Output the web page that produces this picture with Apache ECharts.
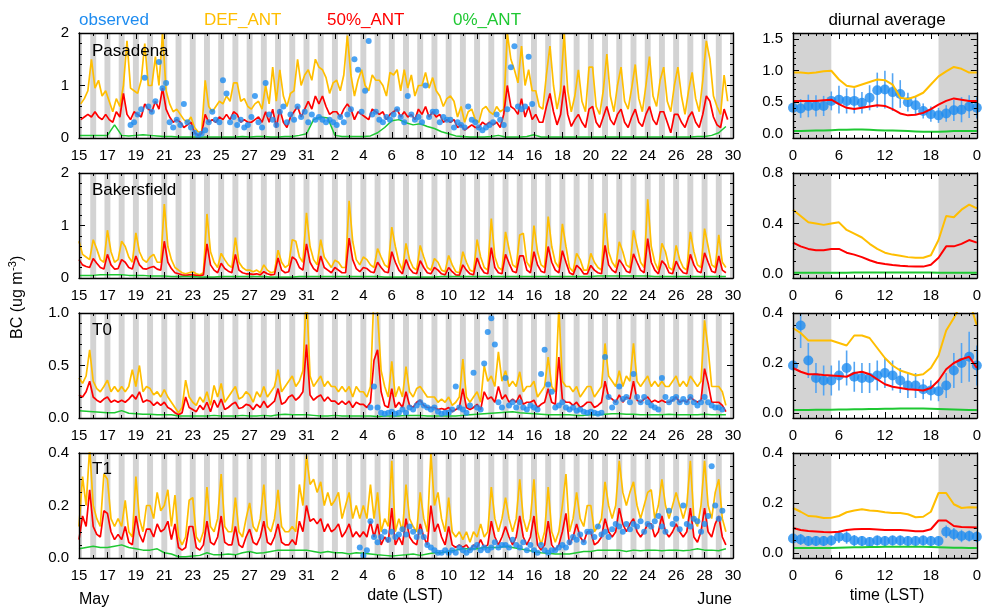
<!DOCTYPE html>
<html><head><meta charset="utf-8">
<script src="https://cdn.jsdelivr.net/npm/echarts@6/dist/echarts.min.js"></script>
<style>html,body{margin:0;padding:0;background:#fff}#c{width:984px;height:608px}</style>
</head><body><div id="c"></div>
<script>
// ---------------- DATA ----------------
// time series: x = days since 15 May 00 LST; values sampled 4x per day
const DATE_TICKS = [0,2,4,6,8,10,12,14,16,18,20,22,24,26,28,30,32,34,36,38,40,42,44,46];
const DATE_LABELS = ['15','17','19','21','23','25','27','29','31','2','4','6','8','10','12','14','16','18','20','22','24','26','28','30'];
const HOUR_TICKS = [0,6,12,18,24];
const HOUR_LABELS = ['0','6','12','18','0'];
const HOURS_PAS = [3,9,15,21];
const HOURS_STD = [0,6,12,18];
const HOURS_GREEN = [0,12];
const DIURNAL_HOURS = [0,1,2,3,4,5,6,7,8,9,10,11,12,13,14,15,16,17,18,19,20,21,22,23,24];

const PAS_DEF = [
0.65,0.75,0.9,1.5, 0.95,1.1,0.8,0.9, 0.7,0.5,0.75,0.6, 1.0,1.85,0.95,0.9, 0.85,1.1,1.8,1.0,
1.0,1.55,1.0,2.0, 0.9,0.65,0.5,0.55, 0.45,0.35,0.3,0.4, 0.2,0.12,0.1,1.1, 0.6,0.5,0.6,0.7,
0.65,0.8,0.7,1.05, 1.05,0.7,0.75,0.6, 0.55,0.65,0.7,0.55, 1.0,0.65,1.35,0.7, 1.3,0.8,0.6,0.85,
0.9,1.5,1.0,1.2, 1.3,1.1,1.5,1.35, 1.3,1.15,0.85,1.05, 1.1,0.9,1.2,1.95, 1.2,0.8,1.1,1.3,
1.0,0.9,1.2,1.1, 1.1,1.0,0.8,1.25, 1.2,1.3,0.9,1.3, 0.95,1.2,0.8,1.0, 1.0,1.25,0.95,1.15,
0.9,0.8,0.6,0.75, 0.8,0.7,0.4,0.6, 0.3,0.5,0.55,0.35, 0.3,0.55,0.6,0.5, 0.45,0.6,0.5,0.55,
2.0,1.5,1.3,1.05, 1.75,1.0,1.3,0.9, 0.9,0.6,0.55,1.2, 1.75,1.0,0.55,0.9, 2.0,0.9,0.5,0.8,
1.3,0.7,0.5,1.35, 1.35,0.6,0.45,0.9, 1.6,0.8,0.5,1.0, 1.35,0.7,0.55,0.95, 1.4,0.75,0.5,1.0,
1.55,0.8,0.6,1.1, 1.35,0.7,0.5,1.0, 1.35,0.8,0.45,0.9, 1.25,0.75,0.5,1.1, 1.85,1.5,0.8,0.6,
0.45,1.2,0.7];
const PAS_HALF = [
0.35,0.4,0.45,0.4, 0.5,0.4,0.35,0.45, 0.35,0.3,0.5,0.4, 0.85,0.45,0.35,0.5, 0.45,0.4,0.65,0.55,
0.5,0.7,0.55,0.95, 0.55,0.4,0.3,0.35, 0.3,0.2,0.25,0.3, 0.1,0.05,0.08,0.45, 0.3,0.35,0.3,0.4,
0.35,0.45,0.35,0.5, 0.45,0.3,0.35,0.3, 0.3,0.35,0.4,0.3, 0.5,0.3,0.55,0.2, 0.55,0.3,0.2,0.4,
0.5,0.6,0.4,0.55, 0.7,0.55,0.8,0.65, 0.8,0.6,0.45,0.5, 0.5,0.4,0.55,0.65, 0.55,0.35,0.5,0.45,
0.4,0.35,0.55,0.5, 0.45,0.5,0.35,0.45, 0.5,0.55,0.4,0.5, 0.4,0.45,0.35,0.55, 0.45,0.6,0.4,0.5,
0.4,0.45,0.3,0.35, 0.3,0.35,0.2,0.25, 0.15,0.2,0.25,0.2, 0.2,0.3,0.25,0.3, 0.25,0.3,0.2,0.45,
1.0,0.6,0.55,0.45, 0.75,0.4,0.6,0.35, 0.45,0.3,0.3,0.6, 0.85,0.5,0.25,0.45, 1.0,0.45,0.22,0.35,
0.45,0.3,0.2,0.55, 0.6,0.3,0.2,0.4, 0.6,0.35,0.25,0.45, 0.55,0.3,0.2,0.4, 0.55,0.3,0.22,0.45,
0.6,0.35,0.25,0.5, 0.5,0.3,0.1,0.45, 0.45,0.3,0.2,0.4, 0.5,0.3,0.2,0.45, 0.8,0.7,0.4,0.25,
0.2,0.55,0.35];
const PAS_ZERO = [
0.05,0.05, 0.05,0.05, 0.05,0.25, 0.05,0.04, 0.05,0.06, 0.05,0.04, 0.03,0.03, 0.02,0.02, 0.02,0.02, 0.02,0.02,
0.02,0.02, 0.02,0.03, 0.02,0.03, 0.03,0.02, 0.02,0.03, 0.03,0.05, 0.08,0.35, 0.4,0.38, 0.05,0.03, 0.03,0.03,
0.03,0.04, 0.1,0.2, 0.33,0.35, 0.29,0.25, 0.27,0.22, 0.18,0.12, 0.08,0.04, 0.03,0.02, 0.02,0.02, 0.03,0.05,
0.02,0.02, 0.02,0.03, 0.06,0.02, 0.02,0.02, 0.02,0.02, 0.02,0.02, 0.02,0.02, 0.02,0.02, 0.02,0.02, 0.02,0.02,
0.02,0.02, 0.02,0.02, 0.02,0.02, 0.02,0.03, 0.03,0.05, 0.1,0.22];
const PAS_OBS_START = 3;
const PAS_OBS = [
null,null,0.25,0.3, 0.45,0.55,1.15,0.6, 0.5,0.7,1.45,0.95, 1.05,0.3,0.2,0.35, 0.25,0.65,0.3,0.2,
0.1,0.05,0.08,0.15, 0.3,0.5,0.35,0.3, 1.1,0.85,0.3,0.4, 0.25,0.35,0.2,0.25, 0.4,0.8,0.3,0.2,
1.05,0.45,0.35,0.25, 0.5,0.6,0.3,0.45, 0.35,0.6,0.4,0.5, 0.3,0.45,0.35,0.4, 0.35,0.3,0.35,0.3,
0.25,0.4,0.3,0.45, 0.55,1.5,1.3,0.5, 0.9,1.85,0.45,0.5, 0.35,0.3,0.4,0.35, 0.45,0.55,0.4,0.3,
0.8,0.45,0.35,0.4, 0.3,1.0,0.4,0.5, 0.5,0.3,0.4,0.35, 0.35,0.2,0.3,0.25, 0.2,0.6,0.35,0.3,
0.2,0.15,0.2,0.25, 0.3,0.45,0.35,0.25, 0.55,1.35,1.75,0.6, 0.55,0.6,1.55,0.65];

const BAK_DEF = [
0.7,0.45,0.4,0.35, 0.73,0.55,0.35,0.3, 0.91,0.5,0.3,0.35, 0.7,0.6,0.4,0.3, 0.86,0.5,0.35,0.3,
0.4,0.45,0.3,0.3, 1.41,0.6,0.35,0.2, 0.15,0.1,0.08,0.1, 0.12,0.08,0.06,0.1, 1.22,0.5,0.3,0.2,
0.47,0.35,0.25,0.2, 0.77,0.3,0.2,0.15, 0.15,0.12,0.15,0.1, 0.25,0.15,0.1,0.12, 0.53,0.3,0.2,0.25,
0.73,0.7,0.4,0.3, 1.24,0.6,0.35,0.25, 0.73,0.4,0.3,0.2, 0.34,0.3,0.2,0.2, 1.47,0.7,0.35,0.25,
0.4,0.35,0.25,0.2, 0.56,0.4,0.25,0.2, 0.97,0.6,0.3,0.15, 0.66,0.35,0.2,0.15, 0.62,0.4,0.2,0.15,
0.37,0.3,0.15,0.12, 0.43,0.25,0.12,0.1, 0.5,0.3,0.15,0.12, 0.73,0.4,0.2,0.15, 1.13,0.4,0.2,0.15,
0.88,0.55,0.25,0.2, 0.82,0.85,0.3,0.2, 1.0,0.5,0.25,0.2, 1.17,0.6,0.3,0.2, 1.03,0.6,0.2,0.12,
0.47,0.35,0.15,0.15, 0.47,0.3,0.2,0.15, 1.23,0.5,0.3,0.2, 0.69,0.5,0.25,0.2, 0.91,0.6,0.3,0.2,
1.5,0.6,0.3,0.15, 0.66,0.5,0.2,0.15, 0.62,0.35,0.2,0.15, 0.88,0.5,0.25,0.2, 0.94,0.6,0.25,0.2,
0.82,0.3,0.2];
const BAK_HALF = [
0.35,0.25,0.22,0.2, 0.37,0.28,0.2,0.17, 0.45,0.25,0.17,0.18, 0.35,0.3,0.2,0.17, 0.42,0.25,0.18,0.17,
0.2,0.22,0.17,0.15, 0.7,0.3,0.18,0.1, 0.08,0.06,0.05,0.06, 0.06,0.05,0.04,0.06, 0.65,0.25,0.15,0.1,
0.28,0.18,0.13,0.1, 0.45,0.15,0.1,0.08, 0.08,0.07,0.08,0.06, 0.12,0.08,0.06,0.07, 0.38,0.15,0.1,0.12,
0.4,0.35,0.2,0.15, 0.65,0.3,0.18,0.12, 0.42,0.2,0.15,0.1, 0.2,0.15,0.1,0.1, 0.76,0.35,0.18,0.12,
0.2,0.18,0.12,0.1, 0.3,0.2,0.12,0.1, 0.5,0.3,0.15,0.08, 0.35,0.18,0.1,0.08, 0.33,0.2,0.1,0.08,
0.2,0.15,0.08,0.06, 0.2,0.12,0.06,0.05, 0.25,0.15,0.08,0.06, 0.38,0.2,0.1,0.08, 0.58,0.2,0.1,0.08,
0.45,0.28,0.13,0.1, 0.42,0.42,0.15,0.1, 0.5,0.25,0.13,0.1, 0.6,0.3,0.15,0.1, 0.52,0.3,0.1,0.06,
0.24,0.18,0.08,0.08, 0.24,0.15,0.1,0.08, 0.62,0.25,0.15,0.1, 0.35,0.25,0.13,0.1, 0.46,0.3,0.15,0.1,
0.75,0.3,0.15,0.08, 0.33,0.25,0.1,0.08, 0.32,0.18,0.1,0.08, 0.45,0.25,0.13,0.1, 0.48,0.3,0.13,0.1,
0.42,0.15,0.1];
const BAK_ZERO = [
0.05,0.05, 0.05,0.06, 0.06,0.06, 0.06,0.05, 0.05,0.05, 0.04,0.04, 0.04,0.03, 0.03,0.03, 0.03,0.02, 0.02,0.02,
0.03,0.03, 0.03,0.03, 0.03,0.03, 0.03,0.02, 0.02,0.02, 0.02,0.03, 0.03,0.03, 0.03,0.03, 0.03,0.03, 0.03,0.03,
0.03,0.03, 0.03,0.02, 0.02,0.02, 0.02,0.02, 0.02,0.02, 0.02,0.03, 0.03,0.03, 0.03,0.03, 0.03,0.03, 0.03,0.03,
0.03,0.03, 0.03,0.03, 0.03,0.03, 0.03,0.03, 0.03,0.03, 0.03,0.03, 0.03,0.04, 0.04,0.04, 0.04,0.04, 0.04,0.04,
0.04,0.03, 0.03,0.03, 0.03,0.03, 0.03,0.03, 0.03,0.03, 0.03,0.03];

const T0_DEF = [
0.38,0.33,0.4,0.65, 0.35,0.28,0.25,0.3, 0.36,0.25,0.3,0.25, 0.3,0.25,0.3,0.46, 0.3,0.5,0.25,0.3,
0.28,0.22,0.25,0.2, 0.27,0.2,0.15,0.1, 0.05,0.1,0.36,0.2, 0.15,0.12,0.2,0.15, 0.25,0.12,0.31,0.2,
0.33,0.15,0.2,0.25, 0.3,0.18,0.2,0.25, 0.22,0.15,0.25,0.2, 0.3,0.2,0.25,0.3, 0.46,0.25,0.3,0.35,
0.4,0.3,0.35,0.45, 1.2,0.4,0.3,0.35, 0.4,0.3,0.35,0.3, 0.3,0.25,0.3,0.25, 0.3,0.2,0.3,0.25,
0.25,0.2,0.3,1.2, 1.0,0.45,0.3,0.2, 0.54,0.2,0.3,0.2, 0.49,0.25,0.2,0.28, 0.3,0.25,0.2,0.2,
0.2,0.15,0.18,0.15, 0.2,0.12,0.15,0.2, 0.56,0.2,0.15,0.2, 0.25,0.15,0.5,0.35, 0.4,0.3,0.63,0.35,
0.45,0.3,0.35,0.3, 0.44,0.25,0.3,0.3, 0.35,0.2,0.25,0.3, 0.58,0.3,0.25,1.05, 0.35,0.3,0.3,0.25,
0.3,0.2,0.25,0.3, 0.3,0.2,0.25,0.3, 0.71,0.4,0.35,0.3, 0.45,0.3,0.4,0.35, 0.71,0.35,0.3,0.35,
0.4,0.3,0.35,0.3, 0.35,0.3,0.3,0.35, 0.4,0.3,0.35,0.3, 0.4,0.35,0.3,0.35, 0.93,0.66,0.3,0.3,
0.3,0.25,0.12];
const T0_HALF = [
0.22,0.2,0.25,0.35, 0.2,0.17,0.15,0.18, 0.2,0.15,0.17,0.15, 0.17,0.15,0.18,0.22, 0.18,0.25,0.15,0.17,
0.16,0.12,0.15,0.12, 0.15,0.1,0.08,0.05, 0.03,0.05,0.2,0.1, 0.08,0.06,0.12,0.08, 0.15,0.06,0.17,0.1,
0.18,0.08,0.1,0.13, 0.15,0.09,0.1,0.13, 0.12,0.08,0.13,0.1, 0.16,0.1,0.13,0.16, 0.28,0.13,0.15,0.2,
0.22,0.17,0.2,0.25, 0.7,0.22,0.17,0.2, 0.22,0.16,0.2,0.16, 0.16,0.13,0.16,0.13, 0.16,0.1,0.15,0.13,
0.13,0.1,0.15,0.55, 0.65,0.25,0.12,0.1, 0.28,0.1,0.15,0.1, 0.25,0.12,0.1,0.15, 0.17,0.12,0.1,0.1,
0.1,0.08,0.09,0.08, 0.1,0.06,0.08,0.1, 0.28,0.1,0.08,0.1, 0.13,0.08,0.25,0.18, 0.2,0.15,0.3,0.18,
0.22,0.15,0.18,0.15, 0.22,0.13,0.15,0.15, 0.17,0.1,0.13,0.15, 0.28,0.15,0.13,0.58, 0.18,0.15,0.15,0.12,
0.15,0.1,0.12,0.15, 0.15,0.1,0.12,0.15, 0.35,0.2,0.18,0.15, 0.22,0.15,0.2,0.18, 0.35,0.17,0.15,0.18,
0.2,0.15,0.17,0.15, 0.17,0.15,0.15,0.17, 0.2,0.15,0.17,0.15, 0.2,0.17,0.15,0.17, 0.47,0.33,0.15,0.15,
0.15,0.12,0.06];
const T0_ZERO = [
0.07,0.065, 0.06,0.055, 0.05,0.05, 0.07,0.045, 0.04,0.035, 0.035,0.03, 0.03,0.03, 0.02,0.02, 0.02,0.02, 0.02,0.025,
0.02,0.02, 0.02,0.025, 0.02,0.02, 0.025,0.02, 0.03,0.035, 0.03,0.03, 0.03,0.025, 0.02,0.02, 0.025,0.02, 0.02,0.02,
0.02,0.02, 0.015,0.02, 0.02,0.02, 0.025,0.025, 0.025,0.02, 0.02,0.02, 0.02,0.02, 0.025,0.03, 0.035,0.04, 0.045,0.05,
0.055,0.06, 0.05,0.045, 0.04,0.035, 0.03,0.03, 0.03,0.03, 0.025,0.025, 0.03,0.03, 0.035,0.04, 0.04,0.035, 0.035,0.03,
0.03,0.03, 0.03,0.035, 0.03,0.03, 0.03,0.03, 0.035,0.03, 0.03,0.03];
const T0_OBS_START = 20;
const T0_OBS = [
null,null,0.1,0.3, 0.1,0.05,0.04,0.05, 0.06,0.04,0.05,0.08, 0.05,0.1,0.08,0.12, 0.15,0.12,0.1,0.08,
0.1,0.06,0.04,0.05, 0.05,0.08,0.3,0.1, 0.08,0.05,0.12,0.43, 0.1,0.08,0.52,0.82, 0.95,0.7,0.15,0.1,
0.38,0.12,0.15,0.1, 0.15,0.1,0.08,0.12, 0.1,0.08,0.42,0.65, 0.32,0.25,0.1,0.12, 0.15,0.1,0.08,0.1,
0.07,0.08,0.06,0.05, 0.06,0.05,0.04,0.05, 0.58,0.2,0.1,0.15, 0.3,0.18,0.2,0.15, 0.42,0.2,0.15,0.2,
0.15,0.12,0.1,0.08, 0.38,0.2,0.15,0.18, 0.2,0.15,0.18,0.15, 0.2,0.15,0.12,0.15, 0.2,0.15,0.12,0.1,
0.1,0.08];

const T1_DEF = [
0.12,0.31,0.2,0.42, 0.2,0.15,0.12,0.32, 0.3,0.15,0.12,0.15, 0.12,0.22,0.1,0.08, 0.31,0.15,0.1,0.2,
0.2,0.15,0.25,0.18, 0.2,0.26,0.12,0.24, 0.08,0.05,0.08,0.22, 0.23,0.08,0.06,0.1, 0.27,0.12,0.1,0.15,
0.32,0.12,0.1,0.1, 0.23,0.1,0.08,0.15, 0.21,0.12,0.1,0.15, 0.28,0.12,0.1,0.15, 0.26,0.12,0.1,0.1,
0.12,0.1,0.28,0.2, 0.39,0.28,0.3,0.25, 0.29,0.2,0.25,0.2, 0.22,0.25,0.15,0.2, 0.25,0.15,0.2,0.15,
0.2,0.15,0.28,0.15, 0.25,0.1,0.15,0.12, 0.37,0.1,0.15,0.1, 0.28,0.15,0.12,0.1, 0.25,0.15,0.1,0.4,
0.2,0.25,0.15,0.1, 0.23,0.1,0.08,0.1, 0.07,0.1,0.06,0.1, 0.08,0.13,0.08,0.1, 0.27,0.15,0.1,0.15,
0.23,0.15,0.1,0.15, 0.3,0.15,0.1,0.15, 0.3,0.1,0.05,0.1, 0.27,0.1,0.06,0.1, 0.2,0.32,0.1,0.15,
0.25,0.15,0.12,0.2, 0.2,0.1,0.12,0.15, 0.29,0.2,0.15,0.2, 0.37,0.25,0.2,0.25, 0.29,0.2,0.15,0.2,
0.25,0.26,0.15,0.2, 0.3,0.2,0.15,0.2, 0.25,0.2,0.15,0.2, 0.37,0.15,0.12,0.2, 0.37,0.2,0.15,0.25,
0.3,0.15,0.1];
const T1_HALF = [
0.07,0.16,0.12,0.26, 0.12,0.09,0.08,0.18, 0.17,0.1,0.07,0.09, 0.07,0.12,0.06,0.05, 0.16,0.09,0.06,0.11,
0.11,0.08,0.13,0.1, 0.11,0.14,0.07,0.13, 0.04,0.03,0.04,0.12, 0.12,0.04,0.03,0.05, 0.14,0.06,0.05,0.08,
0.16,0.06,0.05,0.05, 0.12,0.05,0.04,0.08, 0.11,0.06,0.05,0.08, 0.14,0.06,0.05,0.08, 0.13,0.06,0.05,0.05,
0.07,0.05,0.14,0.1, 0.2,0.14,0.15,0.13, 0.15,0.1,0.13,0.1, 0.11,0.13,0.08,0.1, 0.13,0.08,0.1,0.08,
0.1,0.08,0.14,0.08, 0.13,0.05,0.08,0.06, 0.19,0.05,0.08,0.05, 0.15,0.08,0.06,0.05, 0.13,0.08,0.05,0.2,
0.1,0.13,0.08,0.05, 0.12,0.05,0.04,0.05, 0.04,0.05,0.03,0.05, 0.04,0.07,0.04,0.05, 0.14,0.08,0.05,0.08,
0.12,0.08,0.05,0.08, 0.16,0.08,0.05,0.08, 0.16,0.05,0.03,0.05, 0.14,0.05,0.03,0.05, 0.1,0.17,0.05,0.08,
0.13,0.08,0.06,0.1, 0.1,0.05,0.06,0.08, 0.15,0.1,0.08,0.1, 0.19,0.13,0.1,0.13, 0.15,0.1,0.08,0.1,
0.13,0.13,0.08,0.1, 0.16,0.1,0.08,0.1, 0.13,0.1,0.08,0.1, 0.19,0.08,0.06,0.1, 0.19,0.1,0.08,0.13,
0.16,0.08,0.05];
const T1_ZERO = [
0.035,0.04, 0.045,0.04, 0.04,0.045, 0.05,0.04, 0.035,0.03, 0.03,0.035, 0.02,0.015, 0.005,0.005, 0.008,0.01, 0.02,0.012,
0.012,0.015, 0.012,0.02, 0.025,0.018, 0.02,0.025, 0.03,0.03, 0.03,0.03, 0.03,0.025, 0.02,0.025, 0.02,0.02, 0.015,0.02,
0.018,0.015, 0.012,0.01, 0.008,0.01, 0.012,0.015, 0.01,0.015, 0.02,0.02, 0.025,0.03, 0.035,0.035, 0.035,0.04, 0.04,0.04,
0.045,0.04, 0.035,0.03, 0.025,0.02, 0.018,0.015, 0.015,0.015, 0.02,0.025, 0.025,0.03, 0.03,0.03, 0.03,0.025, 0.03,0.028,
0.03,0.03, 0.028,0.03, 0.03,0.028, 0.03,0.035, 0.03,0.03, 0.028,0.035];
const T1_OBS_START = 19;
const T1_OBS = [
null,null,null,0.04, 0.01,0.03,0.14,0.08, 0.06,0.08,0.1,0.07, 0.1,0.08,0.09,0.11, 0.09,0.12,0.1,0.08,
0.1,0.08,0.05,0.04, 0.03,0.02,0.02,0.03, 0.02,0.03,0.02,0.04, 0.03,0.02,0.03,0.04, 0.05,0.03,0.04,0.03,
0.04,0.06,0.04,0.05, 0.05,0.04,0.07,0.05, 0.04,0.06,0.03,0.05, 0.03,0.02,0.05,0.03, 0.02,0.03,0.03,0.04,
0.05,0.04,0.06,0.08, 0.07,0.09,0.06,0.1, 0.1,0.08,0.12,0.09, 0.1,0.08,0.11,0.13, 0.12,0.1,0.13,0.11,
0.13,0.12,0.14,0.1, 0.13,0.12,0.14,0.16, 0.12,0.1,0.18,0.13, 0.15,0.11,0.2,0.13, 0.12,0.15,0.14,0.1,
0.13,0.16,0.35,0.2, 0.15,0.18];

// diurnal averages (hour 0..24)
const PASR_DEF  = [0.97,0.97,0.96,0.97,0.99,1.0,0.86,0.76,0.74,0.78,0.82,0.86,0.85,0.78,0.57,0.55,0.59,0.65,0.78,0.91,0.99,1.06,1.03,0.97,0.97];
const PASR_HALF = [0.52,0.52,0.52,0.52,0.53,0.54,0.47,0.41,0.39,0.41,0.43,0.45,0.44,0.39,0.32,0.29,0.3,0.33,0.39,0.46,0.52,0.56,0.54,0.52,0.52];
const PASR_ZERO = [0.04,0.04,0.045,0.05,0.05,0.055,0.06,0.06,0.065,0.065,0.06,0.055,0.05,0.05,0.045,0.04,0.035,0.03,0.03,0.03,0.035,0.04,0.04,0.04,0.04];
const PASR_OBS  = [0.41,0.4,0.44,0.44,0.44,0.52,0.54,0.52,0.52,0.49,0.57,0.69,0.7,0.66,0.63,0.5,0.45,0.36,0.31,0.29,0.32,0.37,0.38,0.43,0.41];
const PASR_ERR  = [0.17,0.15,0.18,0.17,0.16,0.15,0.22,0.2,0.2,0.17,0.2,0.28,0.3,0.3,0.22,0.15,0.15,0.12,0.12,0.12,0.13,0.17,0.2,0.18,0.17];
const BAKR_DEF  = [0.51,0.46,0.41,0.4,0.39,0.4,0.41,0.35,0.32,0.29,0.24,0.2,0.17,0.155,0.145,0.135,0.13,0.13,0.15,0.27,0.46,0.45,0.51,0.55,0.52];
const BAKR_HALF = [0.25,0.22,0.2,0.19,0.19,0.2,0.2,0.17,0.155,0.135,0.11,0.09,0.08,0.072,0.067,0.063,0.06,0.06,0.075,0.13,0.22,0.22,0.24,0.27,0.25];
const BAKR_ZERO = [0.012,0.012,0.012,0.012,0.012,0.012,0.012,0.012,0.013,0.013,0.013,0.013,0.014,0.014,0.014,0.014,0.014,0.014,0.013,0.012,0.012,0.012,0.012,0.012,0.012];
const T0R_DEF   = [0.34,0.32,0.29,0.29,0.29,0.29,0.28,0.27,0.31,0.31,0.3,0.26,0.22,0.19,0.17,0.16,0.15,0.155,0.18,0.23,0.33,0.38,0.44,0.45,0.35];
const T0R_HALF  = [0.18,0.165,0.155,0.155,0.152,0.15,0.148,0.145,0.16,0.165,0.155,0.135,0.115,0.105,0.1,0.095,0.093,0.09,0.1,0.13,0.175,0.2,0.215,0.225,0.18];
const T0R_ZERO  = [0.012,0.012,0.012,0.013,0.013,0.013,0.014,0.014,0.015,0.015,0.016,0.016,0.017,0.017,0.018,0.018,0.018,0.018,0.017,0.016,0.015,0.014,0.013,0.012,0.012];
const T0R_OBS   = [0.19,0.35,0.21,0.14,0.13,0.13,0.15,0.18,0.145,0.14,0.14,0.15,0.16,0.15,0.13,0.11,0.11,0.095,0.09,0.087,0.11,0.17,0.2,0.225,0.19];
const T0R_ERR   = [0.09,0.09,0.07,0.06,0.06,0.06,0.06,0.07,0.06,0.06,0.06,0.06,0.06,0.06,0.05,0.05,0.05,0.04,0.04,0.04,0.05,0.07,0.08,0.1,0.08];
const T1R_DEF   = [0.18,0.165,0.148,0.146,0.14,0.141,0.148,0.163,0.17,0.175,0.17,0.168,0.163,0.16,0.16,0.155,0.143,0.145,0.165,0.24,0.24,0.195,0.18,0.183,0.182];
const T1R_HALF  = [0.1,0.092,0.088,0.086,0.084,0.083,0.085,0.092,0.095,0.096,0.096,0.094,0.092,0.092,0.092,0.09,0.087,0.087,0.095,0.13,0.13,0.108,0.104,0.103,0.102];
const T1R_ZERO  = [0.02,0.02,0.02,0.02,0.02,0.02,0.021,0.022,0.023,0.023,0.024,0.024,0.025,0.025,0.025,0.025,0.025,0.025,0.024,0.023,0.022,0.021,0.021,0.02,0.02];
const T1R_OBS   = [0.058,0.054,0.048,0.048,0.048,0.05,0.065,0.062,0.05,0.048,0.044,0.05,0.048,0.05,0.05,0.048,0.048,0.05,0.048,0.048,0.085,0.075,0.068,0.068,0.065];
const T1R_ERR   = [0.025,0.022,0.02,0.02,0.02,0.02,0.025,0.025,0.022,0.02,0.02,0.02,0.02,0.02,0.02,0.02,0.02,0.02,0.02,0.02,0.025,0.025,0.025,0.022,0.022];

// ---------------- STYLE / LAYOUT ----------------
const FONT = '"Liberation Sans", Arial, Helvetica, sans-serif';
const C_OBS = '#1e8cf0', C_ERR = '#55a5f2', C_DEF = '#ffbe00', C_HALF = '#ff0000', C_ZERO = '#1ec832', C_NIGHT = '#d3d3d3';
const TOPS = [33, 173, 313, 453], PH = 105;
const NIGHT_START = 19, NIGHT_END = 5, N_DAYS = 46;

const PANELS = [
  {name:'Pasadena', hours:HOURS_PAS, def:PAS_DEF, half:PAS_HALF, zero:PAS_ZERO, obs:PAS_OBS, obsStart:PAS_OBS_START,
   y:{min:0,max:2,ticks:[0,1,2],labels:['0','1','2'],minor:0.2},
   r:{def:PASR_DEF, half:PASR_HALF, zero:PASR_ZERO, obs:PASR_OBS, err:PASR_ERR,
      y:{min:-0.07,max:1.6,ticks:[0,0.5,1,1.5],labels:['0.0','0.5','1.0','1.5'],minor:0.1}}},
  {name:'Bakersfield', hours:HOURS_STD, def:BAK_DEF, half:BAK_HALF, zero:BAK_ZERO, obs:null,
   y:{min:0,max:2,ticks:[0,1,2],labels:['0','1','2'],minor:0.2},
   r:{def:BAKR_DEF, half:BAKR_HALF, zero:BAKR_ZERO, obs:null, err:null,
      y:{min:-0.03,max:0.8,ticks:[0,0.4,0.8],labels:['0.0','0.4','0.8'],minor:0.1}}},
  {name:'T0', hours:HOURS_STD, def:T0_DEF, half:T0_HALF, zero:T0_ZERO, obs:T0_OBS, obsStart:T0_OBS_START,
   y:{min:0,max:1,ticks:[0,0.5,1],labels:['0.0','0.5','1.0'],minor:0.1},
   r:{def:T0R_DEF, half:T0R_HALF, zero:T0R_ZERO, obs:T0R_OBS, err:T0R_ERR,
      y:{min:-0.02,max:0.4,ticks:[0,0.2,0.4],labels:['0.0','0.2','0.4'],minor:0.05}}},
  {name:'T1', hours:HOURS_STD, def:T1_DEF, half:T1_HALF, zero:T1_ZERO, obs:T1_OBS, obsStart:T1_OBS_START,
   y:{min:0,max:0.4,ticks:[0,0.2,0.4],labels:['0.0','0.2','0.4'],minor:0.05},
   r:{def:T1R_DEF, half:T1R_HALF, zero:T1R_ZERO, obs:T1R_OBS, err:T1R_ERR,
      y:{min:-0.02,max:0.4,ticks:[0,0.2,0.4],labels:['0.0','0.2','0.4'],minor:0.05}}}
];

const X_LEFT = {min:0, max:N_DAYS, ticks:DATE_TICKS, labels:DATE_LABELS, minor:1};
const X_RIGHT = {min:0, max:24, ticks:HOUR_TICKS, labels:HOUR_LABELS, minor:1};

function minorList(r){
  const out = [];
  const start = Math.ceil(r.min / r.minor - 1e-9);
  for (let k = start; k * r.minor <= r.max + 1e-9; k++) {
    const v = +(k * r.minor).toFixed(6);
    if (!r.ticks.some(t => Math.abs(t - v) < 1e-9)) out.push(v);
  }
  return out;
}
function labelFor(r, v){
  const i = r.ticks.findIndex(t => Math.abs(t - v) < 1e-6);
  return i >= 0 ? r.labels[i] : '';
}
const xAxes = [], yAxes = [];
function buildAxes(list, gi, r, dim){
  const pos = dim === 'x' ? ['bottom','top'] : ['left','right'];
  const minors = minorList(r);
  const main = list.length;
  pos.forEach((p, pi) => {
    [true, false].forEach(major => {
      list.push({
        type:'value', gridIndex:gi, position:p, min:r.min, max:r.max, z:10,
        axisLine:{show:major, onZero:false, lineStyle:{color:'#000', width:1.4}},
        axisTick:{show:true, inside:true, length:major?6:3, customValues:major?r.ticks:minors, lineStyle:{color:'#000', width:1}},
        axisLabel:{show:major && pi === 0, customValues:r.ticks, formatter:v => labelFor(r, v),
                   margin:dim === 'x' ? 10 : 10, fontSize:15, fontFamily:FONT, color:'#000'},
        splitLine:{show:false}
      });
    });
  });
  return main;
}
function sampled(vals, hours, start){
  const out = [];
  vals.forEach((v, i) => {
    if (v === null || v === undefined) return;
    out.push([start + Math.floor(i / hours.length) + hours[i % hours.length] / 24, v]);
  });
  return out;
}
function lineSeries(data, color, xi, yi, z, w){
  return {type:'line', data, xAxisIndex:xi, yAxisIndex:yi, symbol:'none', showSymbol:false, z,
          lineStyle:{color, width:w}, itemStyle:{color}, clip:true, silent:true, animation:false};
}

const grids = [], series = [];
const leftBands = [];
for (let d = -1; d < N_DAYS; d++) {
  const a = Math.max(0, d + NIGHT_START / 24), b = Math.min(N_DAYS, d + 1 + NIGHT_END / 24);
  if (b > a) leftBands.push([{xAxis:a}, {xAxis:b}]);
}
const rightBands = [[{xAxis:0},{xAxis:NIGHT_END}], [{xAxis:NIGHT_START},{xAxis:24}]];

PANELS.forEach((p, i) => {
  // left time series
  const gl = grids.length;
  grids.push({left:79, top:TOPS[i], width:654, height:PH});
  const xl = buildAxes(xAxes, gl, X_LEFT, 'x');
  const yl = buildAxes(yAxes, gl, p.y, 'y');
  const sDef = lineSeries(sampled(p.def, p.hours, 0), C_DEF, xl, yl, 3, 1.7);
  sDef.markArea = {silent:true, itemStyle:{color:C_NIGHT, opacity:1, borderWidth:0}, data:leftBands};
  series.push(sDef);
  series.push(lineSeries(sampled(p.half, p.hours, 0), C_HALF, xl, yl, 4, 1.7));
  series.push(lineSeries(sampled(p.zero, HOURS_GREEN, 0), C_ZERO, xl, yl, 5, 1.5));
  if (p.obs) {
    series.push({type:'scatter', data:sampled(p.obs, p.hours, p.obsStart), xAxisIndex:xl, yAxisIndex:yl,
      symbol:'circle', symbolSize:6, itemStyle:{color:C_OBS}, z:6, clip:true, silent:true, animation:false});
  }
  // right diurnal panel
  const gr = grids.length;
  grids.push({left:793, top:TOPS[i], width:188, height:PH});
  const xr = buildAxes(xAxes, gr, X_RIGHT, 'x');
  const yr = buildAxes(yAxes, gr, p.r.y, 'y');
  const hd = (arr) => arr.map((v, k) => [DIURNAL_HOURS[k], v]);
  const rDef = lineSeries(hd(p.r.def), C_DEF, xr, yr, 5, 2);
  rDef.markArea = {silent:true, itemStyle:{color:C_NIGHT, opacity:1, borderWidth:0}, data:rightBands};
  series.push(rDef);
  series.push(lineSeries(hd(p.r.half), C_HALF, xr, yr, 6, 2));
  series.push(lineSeries(hd(p.r.zero), C_ZERO, xr, yr, 6, 2));
  if (p.r.obs) {
    series.push({type:'custom', xAxisIndex:xr, yAxisIndex:yr, z:3, clip:true, silent:true, animation:false,
      data:p.r.obs.map((v, k) => [DIURNAL_HOURS[k], v - p.r.err[k], v + p.r.err[k]]),
      encode:{x:0, y:[1,2]},
      renderItem:(params, api) => {
        const a = api.coord([api.value(0), api.value(1)]);
        const b = api.coord([api.value(0), api.value(2)]);
        return {type:'line', shape:{x1:a[0], y1:a[1], x2:b[0], y2:b[1]}, style:{stroke:C_ERR, lineWidth:1.6}};
      }});
    series.push({type:'scatter', data:hd(p.r.obs), xAxisIndex:xr, yAxisIndex:yr, symbol:'circle', symbolSize:10,
      itemStyle:{color:C_OBS}, z:4, clip:true, silent:true, animation:false});
  }
});

const txt = (x, y, text, opts) => Object.assign({type:'text', x, y, z:100, silent:true,
  style:Object.assign({text, fill:'#000', fontSize:17, fontFamily:FONT, textAlign:'left', textVerticalAlign:'middle'}, opts || {})});

const graphic = [
  txt(79, 20, 'observed', {fill:C_OBS}),
  txt(204, 20, 'DEF_ANT', {fill:C_DEF}),
  txt(327, 20, '50%_ANT', {fill:C_HALF}),
  txt(453, 20, '0%_ANT', {fill:C_ZERO}),
  txt(887, 20, 'diurnal average', {textAlign:'center'}),
  txt(92, 51, 'Pasadena'),
  txt(92, 190, 'Bakersfield'),
  txt(92, 330, 'T0'),
  txt(92, 469, 'T1'),
  txt(405, 596, 'date (LST)', {textAlign:'center', fontSize:16}),
  txt(887, 596, 'time (LST)', {textAlign:'center', fontSize:16}),
  txt(79, 600, 'May', {fontSize:16}),
  txt(732, 600, 'June', {fontSize:16, textAlign:'right'}),
  {type:'group', x:18, y:298, rotation:Math.PI/2, silent:true, z:100, children:[
    {type:'text', x:-41, y:0, style:{text:'BC (ug m', fill:'#000', fontSize:16, fontFamily:FONT, textAlign:'left', textVerticalAlign:'middle'}},
    {type:'text', x:27, y:-5, style:{text:'-3', fill:'#000', fontSize:11, fontFamily:FONT, textAlign:'left', textVerticalAlign:'middle'}},
    {type:'text', x:37, y:0, style:{text:')', fill:'#000', fontSize:16, fontFamily:FONT, textAlign:'left', textVerticalAlign:'middle'}}
  ]}
];

const chart = echarts.init(document.getElementById('c'), null, {renderer:'canvas'});
chart.setOption({animation:false, backgroundColor:'#fff', grid:grids, xAxis:xAxes, yAxis:yAxes, series, graphic});
</script></body></html>
